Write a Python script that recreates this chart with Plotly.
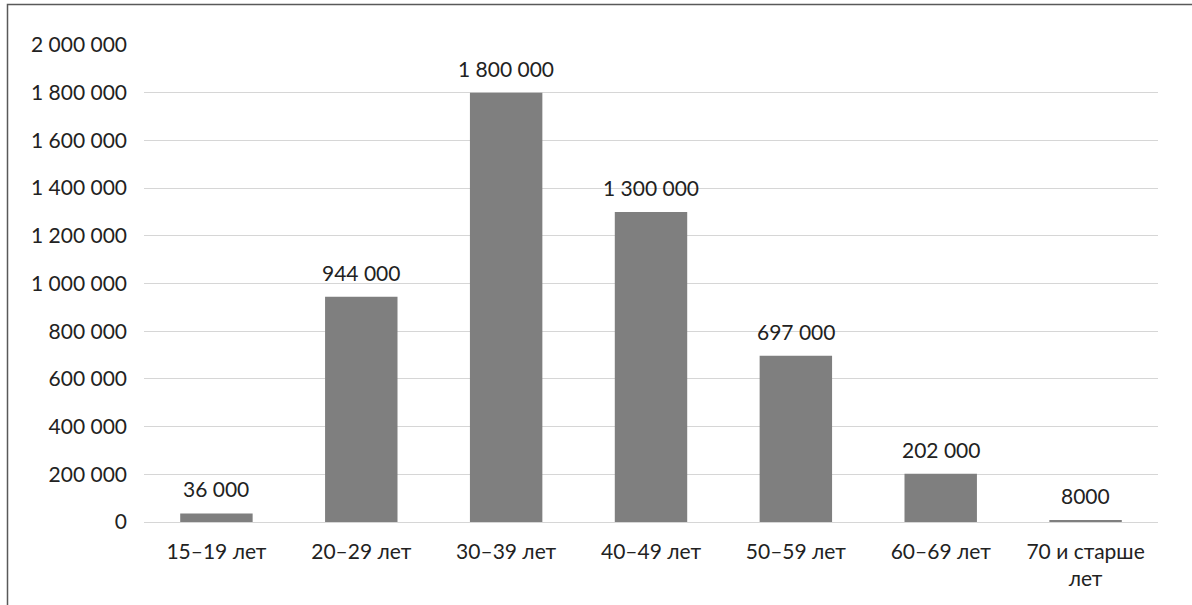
import plotly.graph_objects as go

categories = ["15–19 лет", "20–29 лет", "30–39 лет", "40–49 лет", "50–59 лет", "60–69 лет", "70 и старше<br>лет"]
values = [36000, 944000, 1800000, 1300000, 697000, 202000, 8000]
value_labels = ["36 000", "944 000", "1 800 000", "1 300 000", "697 000", "202 000", "8000"]
tick_values = list(range(0, 2000001, 200000))

FONT = "Lato, Open Sans, sans-serif"
TXT = "#222222"
FS = 21

fig = go.Figure()
fig.add_trace(go.Bar(
    x=categories, y=values,
    marker=dict(color="#7f7f7f", line=dict(width=0)),
    hoverinfo="x+y",
))

for c, v, lab in zip(categories, values, value_labels):
    fig.add_annotation(x=c, y=v, text=lab, showarrow=False, yanchor="bottom",
                       yshift=10, font=dict(family=FONT, size=FS, color=TXT))

W, H = 1192, 605
ml, mr, mt, mb = 144, 34, 45, 83
pw, ph = W - ml - mr, H - mt - mb

def px_x(p):
    return (p - ml) / pw

def px_y(p):
    return (H - mb - p) / ph

fig.add_shape(type="path", xref="paper", yref="paper",
              path=f"M {px_x(7.5)} {px_y(606)} L {px_x(7.5)} {px_y(4.5)} L {px_x(1193)} {px_y(4.5)}",
              line=dict(color="#595959", width=1.5))

fig.update_layout(
    width=W, height=H,
    margin=dict(l=ml, r=mr, t=mt, b=mb),
    paper_bgcolor="white", plot_bgcolor="white",
    bargap=0.5,
    showlegend=False,
    separators=". ",
    font=dict(family=FONT, size=FS, color=TXT),
    xaxis=dict(showgrid=False, showline=False, ticks="", ticklabelstandoff=15,
               tickfont=dict(family=FONT, size=FS, color=TXT)),
    yaxis=dict(range=[0, 2000000], tickvals=tick_values, tickformat=",d",
               showgrid=True, gridcolor="#d6d6d6", gridwidth=1.2,
               zeroline=True, zerolinecolor="#d6d6d6", zerolinewidth=1.2,
               showline=False, ticks="", ticklabelstandoff=16,
               tickfont=dict(family=FONT, size=FS, color=TXT)),
)

fig.write_html("out.html", config={"displayModeBar": False},
               post_script="document.body.style.margin='0';")
